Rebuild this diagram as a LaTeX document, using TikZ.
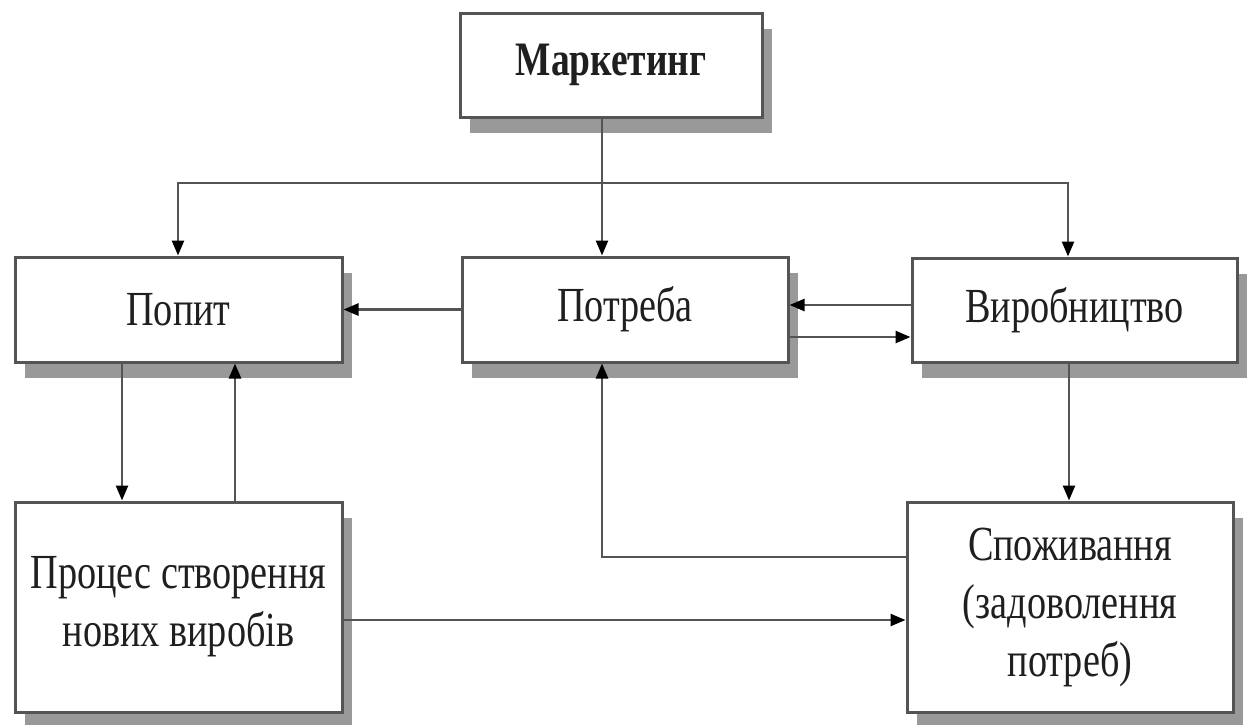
\documentclass[tikz,border=0pt]{standalone}
\usepackage{fontspec}
\setmainfont{Liberation Serif}
\newfontfamily\narrowfont[FakeStretch=0.78]{Liberation Serif}
\usetikzlibrary{arrows.meta,shadows}
\definecolor{boxline}{gray}{0.33}
\definecolor{shadowgray}{gray}{0.6}
\definecolor{linegray}{gray}{0.33}
\definecolor{textdark}{gray}{0.12}
\begin{document}
\begin{tikzpicture}[x=1pt,y=-1pt,
  box/.style={draw=boxline, line width=3pt, fill=white, inner sep=0pt,
    align=center, text=textdark,
    font=\narrowfont\fontsize{49}{58}\selectfont,
    drop shadow={shadow xshift=10pt, shadow yshift=-16pt, fill=shadowgray, opacity=1}},
  arr/.style={draw=linegray, line width=2.5pt, -{Triangle[length=15pt,width=12pt,fill=black,color=black]}},
  ln/.style={draw=linegray, line width=2.5pt}]
\useasboundingbox (0,0) rectangle (1248,724);
\node[box, minimum width=302pt, minimum height=104pt, font=\narrowfont\bfseries\fontsize{48}{58}\selectfont] (mark) at (611,65) {Маркетинг};
\node[box, minimum width=327pt, minimum height=105pt] (popyt) at (178.5,309.5) {Попит};
\node[box, minimum width=326pt, minimum height=105pt] (potreba) at (625,309.5) {Потреба};
\node[box, minimum width=325pt, minimum height=104pt] (vyr) at (1074.5,310) {Виробництво};
\node[box, minimum width=327pt, minimum height=210pt] (proces) at (178.5,607) {Процес створення\\нових виробів};
\node[box, minimum width=326pt, minimum height=210pt] (spozh) at (1070,607) {Споживання\\(задоволення\\потреб)};
% top distribution
\coordinate (split) at (602,183);
\draw[arr] (mark.south -| split) -- (potreba.north -| split);
\draw[ln] (178,183) -- (1068,183);
\draw[arr] (split) -| (popyt.north -| 178,0);
\draw[arr] (split) -| (vyr.north -| 1068,0);
% middle row
\draw[arr] (potreba.west) -- (popyt.east);
\draw[arr] (vyr.west |- 0,305) -- (potreba.east |- 0,305);
\draw[arr] (potreba.east |- 0,337) -- (vyr.west |- 0,337);
% left column
\draw[arr] (popyt.south -| 122,0) -- (proces.north -| 122,0);
\draw[arr] (proces.north -| 235,0) -- (popyt.south -| 235,0);
% bottom
\draw[arr] (proces.east |- 0,620) -- (spozh.west |- 0,620);
\draw[arr] (spozh.west |- 0,557) -| (potreba.south -| split);
\draw[arr] (vyr.south -| 1069,0) -- (spozh.north -| 1069,0);
\end{tikzpicture}
\end{document}
